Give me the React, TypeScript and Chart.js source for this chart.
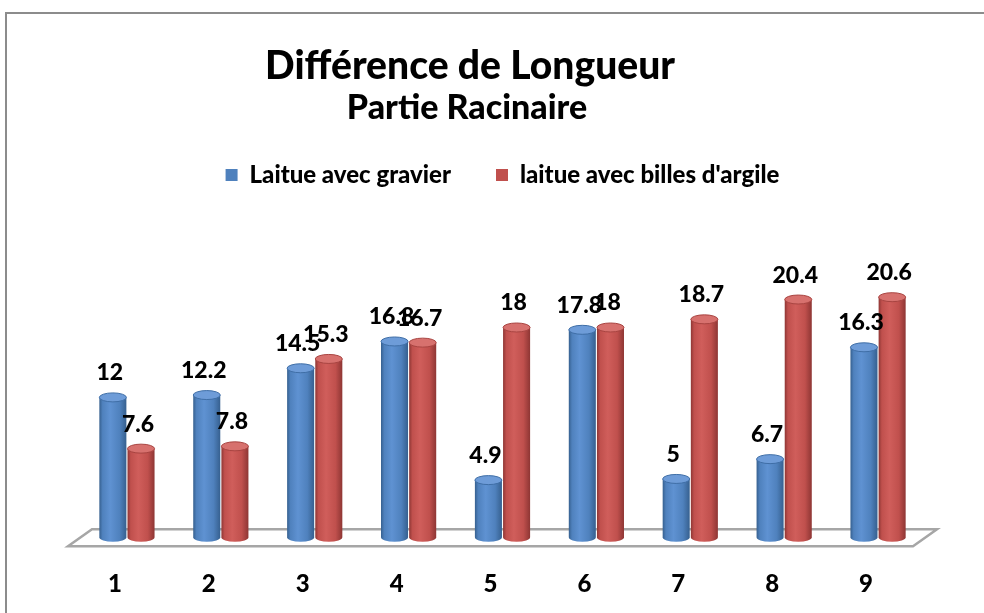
import React, { useEffect, useRef } from "react";
import { Chart, registerables } from "chart.js";

Chart.register(...registerables);

const categories = ["1", "2", "3", "4", "5", "6", "7", "8", "9"];
const gravier = [12, 12.2, 14.5, 16.8, 4.9, 17.8, 5, 6.7, 16.3];
const argile = [7.6, 7.8, 15.3, 16.7, 18, 18, 18.7, 20.4, 20.6];
const seriesNames = ["Laitue avec gravier", "laitue avec billes d'argile"];
const titleText = "Différence de Longueur";
const subtitleText = "Partie Racinaire";

const FONT = "Lato, 'Open Sans', sans-serif";
const W = "900";

const palettes = [
  { base: "#4F81BD", dark: "#36608F", light: "#5F92D2", top: "#6E9CD8", rim: "#3F6EA6" },
  { base: "#C0504D", dark: "#8E3634", light: "#D05E5B", top: "#D7716E", rim: "#A84441" },
];

const titlePlugin = {
  id: "customTitles",
  afterDraw(chart: any) {
    const { ctx } = chart;
    ctx.save();
    ctx.fillStyle = "#000";
    ctx.textAlign = "center";
    ctx.textBaseline = "alphabetic";
    ctx.font = `${W} 39px ${FONT}`;
    ctx.fillText(titleText, 470, 79);
    ctx.font = `${W} 34px ${FONT}`;
    ctx.fillText(subtitleText, 467, 119);
    ctx.restore();
  },
};

const cylinderPlugin = {
  id: "cylinders",
  beforeDatasetsDraw(chart: any) {
    const { ctx, chartArea, scales } = chart;
    const base = scales.y.getPixelForValue(0);
    const skew = 12;
    ctx.save();
    ctx.beginPath();
    ctx.moveTo(chartArea.left + skew, base - 8);
    ctx.lineTo(chartArea.right + skew, base - 8);
    ctx.lineTo(chartArea.right - skew, base + 9);
    ctx.lineTo(chartArea.left - skew, base + 9);
    ctx.closePath();
    ctx.fillStyle = "#ffffff";
    ctx.fill();
    ctx.lineWidth = 2.5;
    ctx.strokeStyle = "#a6a6a6";
    ctx.stroke();
    ctx.restore();
  },
  afterDatasetsDraw(chart: any) {
    const { ctx } = chart;
    chart.data.datasets.forEach((ds: any, di: number) => {
      const meta = chart.getDatasetMeta(di);
      const pal = palettes[di];
      meta.data.forEach((el: any) => {
        const { x, y, base, width } = el.getProps(["x", "y", "base", "width"], true);
        const l = x - width / 2;
        const r = x + width / 2;
        const ry = 4.5;
        const g = ctx.createLinearGradient(l, 0, r, 0);
        g.addColorStop(0, pal.dark);
        g.addColorStop(0.12, pal.base);
        g.addColorStop(0.4, pal.light);
        g.addColorStop(0.75, pal.base);
        g.addColorStop(1, pal.dark);
        ctx.save();
        ctx.beginPath();
        ctx.moveTo(l, y);
        ctx.lineTo(l, base);
        ctx.ellipse(x, base, width / 2, ry, 0, Math.PI, 0, true);
        ctx.lineTo(r, y);
        ctx.closePath();
        ctx.fillStyle = g;
        ctx.fill();
        ctx.beginPath();
        ctx.ellipse(x, y, width / 2, ry, 0, 0, Math.PI * 2);
        ctx.fillStyle = pal.top;
        ctx.fill();
        ctx.lineWidth = 1;
        ctx.strokeStyle = pal.rim;
        ctx.stroke();
        ctx.restore();
      });
    });
    ctx.save();
    ctx.font = `${W} 23px ${FONT}`;
    ctx.fillStyle = "#000";
    ctx.textAlign = "center";
    ctx.textBaseline = "alphabetic";
    chart.data.datasets.forEach((ds: any, di: number) => {
      const meta = chart.getDatasetMeta(di);
      meta.data.forEach((el: any, i: number) => {
        const { x, y } = el.getProps(["x", "y"], true);
        ctx.fillText(String(ds.data[i]), x - 3, y - 17);
      });
    });
    ctx.restore();
  },
};

export default function App() {
  const ref = useRef<HTMLCanvasElement | null>(null);
  useEffect(() => {
    if (!ref.current) return;
    const chart = new Chart(ref.current, {
      type: "bar",
      data: {
        labels: categories,
        datasets: [
          { label: seriesNames[0], data: gravier, backgroundColor: "rgba(0,0,0,0)", borderWidth: 0 },
          { label: seriesNames[1], data: argile, backgroundColor: "rgba(0,0,0,0)", borderWidth: 0 },
        ],
      },
      options: {
        animation: false,
        responsive: false,
        maintainAspectRatio: false,
        layout: { padding: { top: 118, left: 80, right: 59, bottom: -19 } },
        datasets: { bar: { categoryPercentage: 0.6, barPercentage: 0.96 } } as any,
        scales: {
          x: {
            grid: { display: false, drawTicks: false },
            border: { display: false },
            ticks: {
              padding: 33,
              labelOffset: -12,
              maxRotation: 0,
              color: "#000",
              font: { family: FONT, size: 24, weight: W as any },
            },
          },
          y: { display: false, min: 0, max: 29.2 },
        },
        plugins: {
          title: { display: false },
          legend: {
            display: true,
            labels: {
              boxWidth: 12,
              boxHeight: 12,
              padding: 45,
              color: "#000",
              font: { family: FONT, size: 24, weight: W as any },
              generateLabels: () =>
                seriesNames.map((n, i) => ({
                  text: n,
                  fillStyle: palettes[i].base,
                  strokeStyle: palettes[i].base,
                  lineWidth: 0,
                  datasetIndex: i,
                  hidden: false,
                })),
            },
          },
          tooltip: { enabled: false },
        },
      },
      plugins: [cylinderPlugin, titlePlugin],
    });
    return () => chart.destroy();
  }, []);
  return (
    <div style={{ position: "fixed", inset: 0, overflow: "hidden", background: "#fff" }}>
      <div
        style={{
          position: "absolute",
          left: 5,
          top: 12,
          width: 1100,
          height: 800,
          border: "2px solid #8c8c8c",
          boxSizing: "border-box",
        }}
      />
      <canvas ref={ref} width={984} height={613} style={{ position: "absolute", left: 0, top: 0 }} />
    </div>
  );
}
